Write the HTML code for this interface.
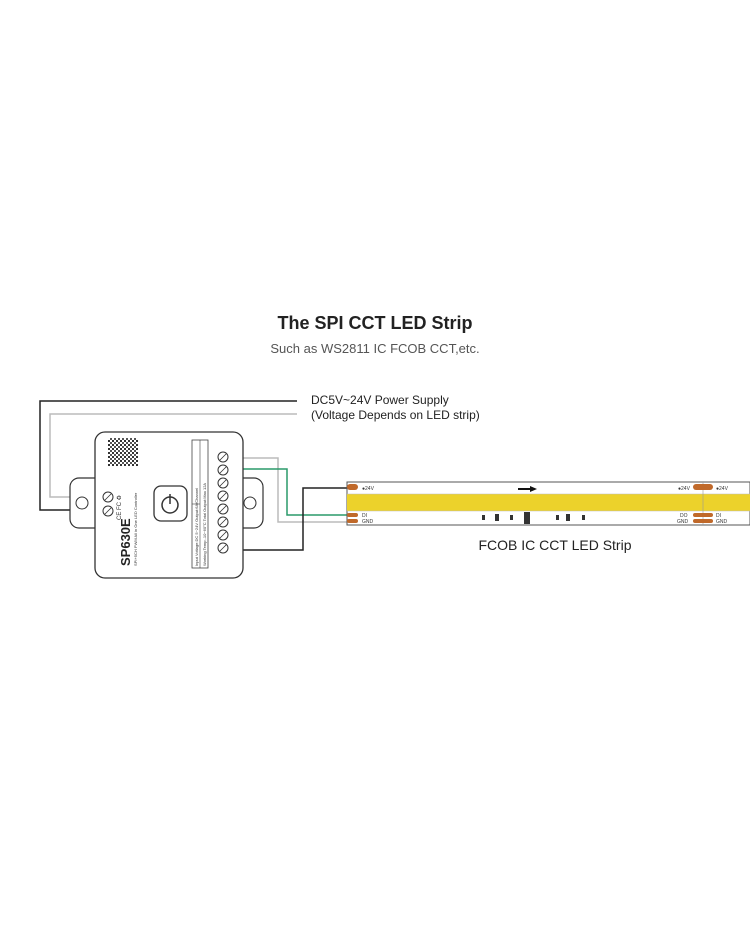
<!DOCTYPE html>
<html><head><meta charset="utf-8"><style>
html,body{margin:0;padding:0;background:#fff;}
body{width:750px;height:930px;overflow:hidden;font-family:"Liberation Sans",sans-serif;}
</style></head><body>
<svg width="750" height="930" viewBox="0 0 750 930" xmlns="http://www.w3.org/2000/svg" font-family="Liberation Sans, sans-serif">
<defs>
<pattern id="qr" width="4" height="4" patternUnits="userSpaceOnUse">
<rect width="4" height="4" fill="#fff"/><rect width="2" height="2" fill="#333"/><rect x="2" y="2" width="2" height="2" fill="#555"/>
</pattern>
</defs>
<text x="375" y="329" text-anchor="middle" font-size="18" font-weight="bold" fill="#222">The SPI CCT LED Strip</text>
<text x="375" y="353" text-anchor="middle" font-size="13" fill="#555">Such as WS2811 IC FCOB CCT,etc.</text>
<text x="311" y="404" font-size="12" fill="#222">DC5V~24V Power Supply</text>
<text x="311" y="419" font-size="12" fill="#222">(Voltage Depends on LED strip)</text>
<text x="555" y="550" text-anchor="middle" font-size="14" fill="#222">FCOB IC CCT LED Strip</text>
<polyline points="297,401 40,401 40,510 96,510" fill="none" stroke="#222" stroke-width="1.5"/>
<polyline points="297,414 50,414 50,497 84,497" fill="none" stroke="#bbb" stroke-width="1.5"/>
<rect x="70" y="478" width="35" height="50" rx="9" fill="#fff" stroke="#333" stroke-width="1.2"/>
<circle cx="82" cy="503" r="6" fill="#fff" stroke="#333"/>
<rect x="232" y="478" width="31" height="50" rx="9" fill="#fff" stroke="#333" stroke-width="1.2"/>
<circle cx="250" cy="503" r="6" fill="#fff" stroke="#333"/>
<polyline points="243,458 278,458 278,522 347,522" fill="none" stroke="#bbb" stroke-width="1.5"/>
<polyline points="243,469 287,469 287,515 347,515" fill="none" stroke="#2a9a6a" stroke-width="1.5"/>
<polyline points="347,488 303,488 303,550 243,550" fill="none" stroke="#222" stroke-width="1.5"/>
<rect x="95" y="432" width="148" height="146" rx="10" fill="#fff" stroke="#333" stroke-width="1.3"/>
<rect x="108" y="438" width="30" height="28" fill="url(#qr)"/>
<rect x="154" y="486" width="33" height="35" rx="7" fill="#fff" stroke="#333" stroke-width="1.3"/>
<circle cx="170" cy="505" r="8" fill="none" stroke="#333" stroke-width="1.5"/>
<line x1="170" y1="494" x2="170" y2="504" stroke="#333" stroke-width="1.5"/>
<rect x="192" y="440" width="16" height="128" fill="#fff" stroke="#444" stroke-width="0.8"/>
<line x1="200" y1="440" x2="200" y2="568" stroke="#444" stroke-width="0.6"/>
<line x1="192" y1="504" x2="200" y2="504" stroke="#444" stroke-width="0.6"/>
<g fill="#fff" stroke="#333" stroke-width="1">
<circle cx="223" cy="457" r="5"/><circle cx="223" cy="470" r="5"/><circle cx="223" cy="483" r="5"/><circle cx="223" cy="496" r="5"/>
<circle cx="223" cy="509" r="5"/><circle cx="223" cy="522" r="5"/><circle cx="223" cy="535" r="5"/><circle cx="223" cy="548" r="5"/>
<circle cx="108" cy="497" r="5"/><circle cx="108" cy="511" r="5"/>
</g>
<g stroke="#333" stroke-width="0.8">
<line x1="220" y1="460" x2="226" y2="454"/><line x1="220" y1="473" x2="226" y2="467"/><line x1="220" y1="486" x2="226" y2="480"/><line x1="220" y1="499" x2="226" y2="493"/>
<line x1="220" y1="512" x2="226" y2="506"/><line x1="220" y1="525" x2="226" y2="519"/><line x1="220" y1="538" x2="226" y2="532"/><line x1="220" y1="551" x2="226" y2="545"/>
<line x1="105" y1="500" x2="111" y2="494"/><line x1="105" y1="514" x2="111" y2="508"/>
</g>
<text transform="translate(130,566) rotate(-90)" font-size="13" font-weight="bold" fill="#222">SP630E</text>
<text transform="translate(137,566) rotate(-90)" font-size="4" fill="#333">SPI+5CH PWM All in One LED Controller</text>
<text transform="translate(121,520) rotate(-90)" font-size="6" fill="#333">CE FC ♻</text>
<text transform="translate(198,566) rotate(-90)" font-size="4" fill="#333">Input Voltage:DC 5~24V  Output:6A/Channel</text>
<text transform="translate(206,566) rotate(-90)" font-size="4" fill="#333">Working Temp:-10~60°C  Total Output:Max 12A</text>
<rect x="347" y="482" width="403" height="43" fill="#fff" stroke="#555" stroke-width="1"/>
<rect x="347" y="494" width="403" height="17" fill="#ecd22b"/>
<line x1="347" y1="494" x2="750" y2="494" stroke="#bbb" stroke-width="0.6"/>
<line x1="347" y1="511" x2="750" y2="511" stroke="#bbb" stroke-width="0.6"/>
<line x1="703" y1="482" x2="703" y2="525" stroke="#999" stroke-width="0.6"/>
<g fill="#c0692a">
<rect x="347" y="484" width="11" height="6" rx="3"/>
<rect x="347" y="513" width="11" height="4" rx="2"/><rect x="347" y="519" width="11" height="4" rx="2"/>
<rect x="693" y="484" width="20" height="6" rx="3"/>
<rect x="693" y="513" width="20" height="4" rx="2"/><rect x="693" y="519" width="20" height="4" rx="2"/>
</g>
<g font-size="5" fill="#333">
<text x="362" y="490">●24V</text><text x="362" y="517">DI</text><text x="362" y="523">GND</text>
<text x="678" y="490">●24V</text><text x="716" y="490">●24V</text>
<text x="680" y="517">DO</text><text x="677" y="523">GND</text>
<text x="716" y="517">DI</text><text x="716" y="523">GND</text>
</g>
<line x1="518" y1="489" x2="530" y2="489" stroke="#111" stroke-width="2"/>
<polygon points="530,486 537,489 530,492" fill="#111"/>
<g fill="#333">
<rect x="482" y="515" width="3" height="5"/><rect x="495" y="514" width="4" height="7"/><rect x="510" y="515" width="3" height="5"/>
<rect x="524" y="512" width="6" height="12"/><rect x="556" y="515" width="3" height="5"/><rect x="566" y="514" width="4" height="7"/><rect x="582" y="515" width="3" height="5"/>
</g>
</svg>
</body></html>
